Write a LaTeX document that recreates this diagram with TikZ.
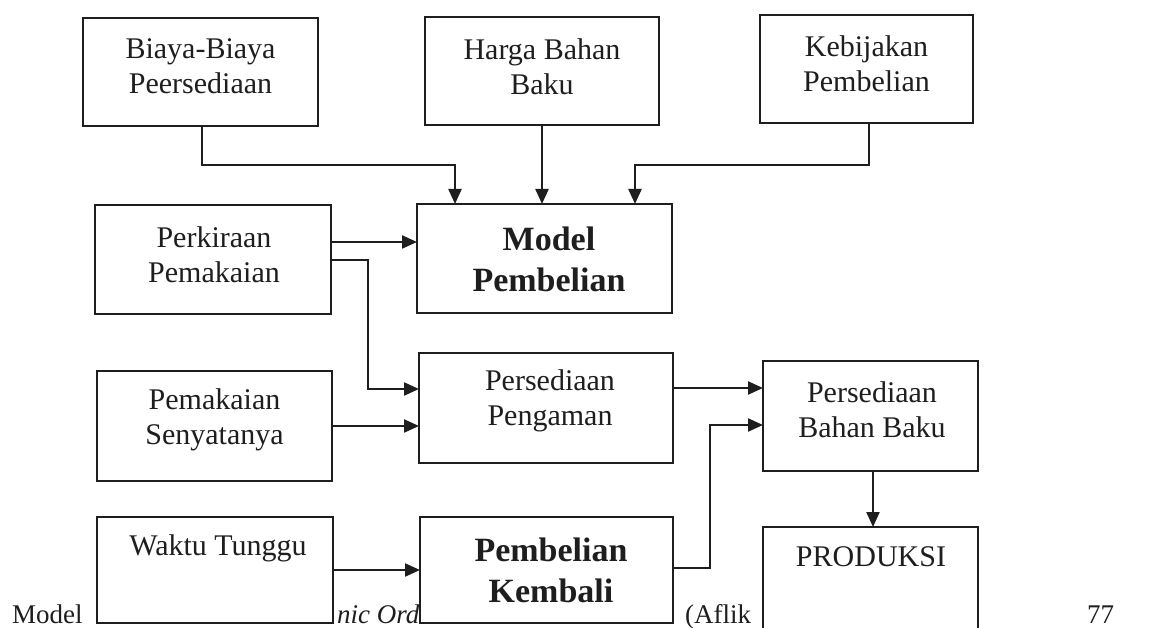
\documentclass[tikz,border=0pt]{standalone}
\usepackage{fontspec}
\setmainfont{Liberation Serif}
\usetikzlibrary{arrows.meta}
\definecolor{ink}{HTML}{1E1E1E}
\tikzset{
  box/.style={draw=ink, line width=2.3pt, fill=white, inner sep=0pt, outer sep=0pt},
  lbl/.style={align=center, inner sep=0pt, text=ink, font=\fontsize{30}{35}\selectfont},
  blbl/.style={align=center, inner sep=0pt, text=ink, font=\fontsize{34}{41}\selectfont\bfseries},
  foot/.style={anchor=base west, inner sep=0pt, text=ink, font=\fontsize{27}{32}\selectfont},
  conn/.style={draw=ink, line width=2.2pt, -{Triangle[length=15pt,width=13pt]}}
}
\begin{document}
\begin{tikzpicture}[x=1pt,y=-1pt]
\useasboundingbox (0,0) rectangle (1152,628);
\fill[white] (0,0) rectangle (1152,628);
% footer line (partly hidden behind the boxes)
\node[foot] (f1) at (12,623) {Model};
\node[foot] (f2) at (337,623) {\itshape nic Ord};
\node[foot] (f3) at (685,623) {(Aflik};
\node[foot] (f4) at (1087,623) {77};
% boxes
\node[box, minimum width=235pt, minimum height=108pt] (b1) at (200.5,72) {};
\node[box, minimum width=234pt, minimum height=108pt] (b2) at (542,71) {};
\node[box, minimum width=213pt, minimum height=108pt] (b3) at (866.5,69) {};
\node[box, minimum width=236pt, minimum height=109pt] (b4) at (213,259.5) {};
\node[box, minimum width=255pt, minimum height=109pt] (b5) at (544.5,258.5) {};
\node[box, minimum width=235pt, minimum height=110pt] (b6) at (214.5,426) {};
\node[box, minimum width=254pt, minimum height=110pt] (b7) at (546,408) {};
\node[box, minimum width=215pt, minimum height=110pt] (b8) at (870.5,416) {};
\node[box, minimum width=236pt, minimum height=106pt] (b9) at (215,570) {};
\node[box, minimum width=253pt, minimum height=106pt] (b10) at (546.5,570) {};
\node[box, minimum width=215pt, minimum height=133pt] (b11) at (870.5,593.5) {};
% labels
\node[lbl] (t1) at (200.5,66) {Biaya-Biaya\\Peersediaan};
\node[lbl] (t2) at (542,66.5) {Harga Bahan\\Baku};
\node[lbl] (t3) at (866.5,63.5) {Kebijakan\\Pembelian};
\node[lbl] (t4) at (214,254.5) {Perkiraan\\Pemakaian};
\node[blbl] (t5) at (549,259) {Model\\Pembelian};
\node[lbl] (t6) at (214.5,420) {Pemakaian\\Senyatanya};
\node[lbl] (t7) at (550,400.5) {Persediaan\\Pengaman};
\node[lbl] (t8) at (872,410) {Persediaan\\Bahan Baku};
\node[lbl] (t9) at (218,548) {Waktu Tunggu};
\node[blbl] (t10) at (551,570) {Pembelian\\Kembali};
\node[lbl] (t11) at (871,557) {PRODUKSI};
% connectors
\coordinate (j1) at (202,165);
\coordinate (j2) at (869,165);
\draw[conn] (b1.south -| j1) -- (j1) -| ([xshift=-89.5pt]b5.north);
\draw[conn] (b2.south) -- (b5.north -| b2.south);
\draw[conn] (b3.south -| j2) -- (j2) -| ([xshift=90.5pt]b5.north);
\draw[conn] (b4.east |- 0,242) -- (b5.west |- 0,242);
\coordinate (j3) at (368,260);
\draw[conn] (b4.east |- j3) -- (j3) |- (b7.west |- 0,389);
\draw[conn] (b6.east |- 0,426) -- (b7.west |- 0,426);
\draw[conn] (b7.east |- 0,388) -- (b8.west |- 0,388);
\coordinate (j4) at (710,568);
\draw[conn] (b10.east |- j4) -- (j4) |- (b8.west |- 0,425);
\draw[conn] (b9.east |- 0,570) -- (b10.west |- 0,570);
\draw[conn] (b8.south -| 873,0) -- (b11.north -| 873,0);
\end{tikzpicture}
\end{document}
